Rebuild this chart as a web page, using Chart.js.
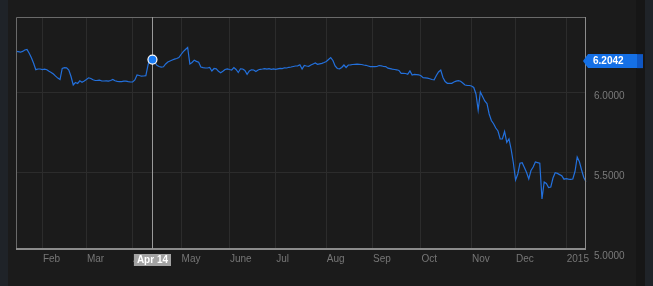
<!DOCTYPE html>
<html>
<head>
<meta charset="utf-8">
<script src="https://cdn.jsdelivr.net/npm/chart.js@4.4.1/dist/chart.umd.min.js"></script>
<style>
    html, body { margin: 0; padding: 0; background: #1b1b1b; }
    #wrap { width: 653px; height: 286px; }
</style>
</head>
<body>
<div id="wrap"><canvas id="chart" width="653" height="286"></canvas></div>
<script>
// trading days: weekdays from first to last date
const firstDate = '2014-01-16';
const lastDate = '2015-01-14';

// month tick labels, in order of the month starts inside the range
const monthLabels = ['Feb', 'Mar', 'Apr', 'May', 'June', 'Jul', 'Aug', 'Sep', 'Oct', 'Nov', 'Dec', '2015'];

// y axis tick labels
const yTicks = [5.0, 5.5, 6.0];

// closing values, one per trading day
const values = [
    6.2563, 6.2538, 6.2506, 6.2556, 6.2644, 6.2681, 6.2438, 6.2163, 6.1813, 6.1413,
    6.1456, 6.1456, 6.1413, 6.1444, 6.1413, 6.1313, 6.1244, 6.1144, 6.1013, 6.0888,
    6.0800, 6.1488, 6.1544, 6.1531, 6.1394, 6.0988, 6.0456, 6.0613, 6.0550, 6.0719,
    6.0625, 6.0706, 6.0800, 6.0906, 6.0863, 6.0781, 6.0738, 6.0744, 6.0756, 6.0706,
    6.0706, 6.0719, 6.0700, 6.0738, 6.0800, 6.0719, 6.0681, 6.0669, 6.0669, 6.0694,
    6.0700, 6.0669, 6.0644, 6.0644, 6.0769, 6.1081, 6.1050, 6.1006, 6.1019, 6.1038,
    6.1706, 6.2188, 6.2042, 6.1894, 6.1688, 6.1613, 6.1569, 6.1594, 6.1769, 6.1894,
    6.1956, 6.2019, 6.2069, 6.2113, 6.2169, 6.2363, 6.2538, 6.2675, 6.2800, 6.1769,
    6.1863, 6.2006, 6.1931, 6.1875, 6.1581, 6.1538, 6.1519, 6.1519, 6.1550, 6.1331,
    6.1488, 6.1469, 6.1313, 6.1225, 6.1313, 6.1425, 6.1463, 6.1425, 6.1394, 6.1550,
    6.1425, 6.1238, 6.1469, 6.1456, 6.1363, 6.1125, 6.1331, 6.1406, 6.1394, 6.1300,
    6.1394, 6.1438, 6.1456, 6.1481, 6.1444, 6.1475, 6.1438, 6.1469, 6.1438, 6.1469,
    6.1500, 6.1481, 6.1531, 6.1519, 6.1563, 6.1581, 6.1613, 6.1644, 6.1656, 6.1719,
    6.1456, 6.1675, 6.1644, 6.1625, 6.1706, 6.1769, 6.1831, 6.1750, 6.1781, 6.1806,
    6.1863, 6.1925, 6.2050, 6.2169, 6.1988, 6.1644, 6.1488, 6.1469, 6.1550, 6.1706,
    6.1550, 6.1706, 6.1719, 6.1738, 6.1750, 6.1756, 6.1750, 6.1738, 6.1706, 6.1688,
    6.1644, 6.1600, 6.1613, 6.1600, 6.1613, 6.1675, 6.1656, 6.1613, 6.1606, 6.1506,
    6.1475, 6.1444, 6.1425, 6.1406, 6.1363, 6.1188, 6.1188, 6.1175, 6.1131, 6.1331,
    6.1081, 6.1119, 6.1106, 6.1094, 6.1031, 6.0919, 6.0900, 6.0881, 6.0844, 6.0800,
    6.0781, 6.1050, 6.1269, 6.1394, 6.0925, 6.0675, 6.0563, 6.0563, 6.0563, 6.0644,
    6.0694, 6.0725, 6.0688, 6.0581, 6.0456, 6.0438, 6.0425, 6.0394, 6.0300, 5.9894,
    5.8894, 6.0019, 5.9738, 5.9456, 5.9300, 5.8644, 5.8238, 5.8038, 5.7769, 5.7581,
    5.7081, 5.7088, 5.7550, 5.6863, 5.7088, 5.6425, 5.5581, 5.4519, 5.4894, 5.5563,
    5.5600, 5.5300, 5.4988, 5.4581, 5.5113, 5.5331, 5.5644, 5.5606, 5.5563, 5.3331,
    5.4394, 5.4300, 5.4050, 5.4081, 5.4644, 5.4969, 5.4931, 5.4856, 5.4781, 5.4569,
    5.4606, 5.4569, 5.4563, 5.4581, 5.5050, 5.5956, 5.5656, 5.5144, 5.4675, 5.4413
];

// the hovered day shown with crosshair, marker and flag
const highlightDate = '2014-04-14';

const monthNames = ['Jan', 'Feb', 'Mar', 'Apr', 'May', 'Jun', 'Jul', 'Aug', 'Sep', 'Oct', 'Nov', 'Dec'];
const FONT = '"Liberation Sans", Arial, sans-serif';

// build the weekday list
const dates = [];
for (let d = new Date(firstDate + 'T00:00:00Z'); d <= new Date(lastDate + 'T00:00:00Z'); d.setUTCDate(d.getUTCDate() + 1)) {
    const wd = d.getUTCDay();
    if (wd !== 0 && wd !== 6) dates.push(d.toISOString().slice(0, 10));
}

// index of first trading day of each month -> label
const monthTickLabel = {};
let m = 0;
dates.forEach((s, i) => {
    if (i > 0 && s.slice(5, 7) !== dates[i - 1].slice(5, 7)) {
        monthTickLabel[i] = monthLabels[m++];
    }
});

const hiIndex = dates.indexOf(highlightDate);

const backdrop = {
    id: 'backdrop',
    beforeDraw(chart) {
        const c = chart.ctx;
        c.save();
        c.fillStyle = '#1b1b1b';
        c.fillRect(0, 0, chart.width, chart.height);
        c.fillStyle = '#1f2328';
        c.fillRect(0, 0, 8, chart.height);
        c.fillRect(chart.width - 8, 0, 8, chart.height);
        c.fillStyle = '#161616';
        c.fillRect(chart.width - 17, 0, 9, chart.height);
        c.restore();
    },
    afterDraw(chart) {
        const c = chart.ctx;
        const a = chart.chartArea;
        c.save();
        // frame
        c.strokeStyle = '#6a6a6a';
        c.lineWidth = 1;
        c.beginPath();
        c.moveTo(a.left + 0.5, a.bottom);
        c.lineTo(a.left + 0.5, a.top + 0.5);
        c.lineTo(a.right - 0.5, a.top + 0.5);
        c.stroke();
        c.strokeStyle = '#8c8c8c';
        c.beginPath();
        c.moveTo(a.right - 0.5, a.top);
        c.lineTo(a.right - 0.5, a.bottom);
        c.stroke();
        c.lineWidth = 2;
        c.beginPath();
        c.moveTo(a.left, a.bottom);
        c.lineTo(a.right, a.bottom);
        c.stroke();

        // crosshair + marker
        if (hiIndex >= 0) {
            const pt = chart.getDatasetMeta(0).data[hiIndex];
            const x = Math.round(pt.x) + 0.5;
            c.lineWidth = 1;
            c.strokeStyle = '#9a9a9a';
            c.beginPath();
            c.moveTo(x, a.top);
            c.lineTo(x, a.bottom);
            c.stroke();

            c.beginPath();
            c.arc(pt.x, pt.y, 4.5, 0, Math.PI * 2);
            c.fillStyle = '#1a7cf5';
            c.fill();
            c.lineWidth = 1.2;
            c.strokeStyle = '#ffffff';
            c.stroke();

            // date box on the x axis
            const d = new Date(highlightDate + 'T00:00:00Z');
            const txt = monthNames[d.getUTCMonth()] + ' ' + d.getUTCDate();
            c.font = 'bold 10px ' + FONT;
            const w = c.measureText(txt).width + 6;
            c.fillStyle = '#a2a2a2';
            c.fillRect(pt.x - w / 2, a.bottom + 5, w, 12);
            c.fillStyle = '#ffffff';
            c.textAlign = 'center';
            c.textBaseline = 'middle';
            c.fillText(txt, pt.x, a.bottom + 11.5);

            // value flag on the right
            const fy = pt.y + 1.5;
            const r = a.right;
            c.fillStyle = '#1570e6';
            c.beginPath();
            c.moveTo(r - 3, fy);
            c.lineTo(r + 2, fy - 7);
            c.lineTo(r + 51, fy - 7);
            c.lineTo(r + 51, fy + 7);
            c.lineTo(r + 2, fy + 7);
            c.closePath();
            c.fill();
            c.fillStyle = '#0f57c4';
            c.fillRect(r + 51, fy - 7, 6, 14);
            c.fillStyle = '#ffffff';
            c.font = 'bold 10px ' + FONT;
            c.textAlign = 'left';
            c.fillText(values[hiIndex].toFixed(4), r + 7, fy + 0.5);
        }
        c.restore();
    }
};

const yMin = 5.0206;
const yMax = 6.4706;

new Chart(document.getElementById('chart'), {
    type: 'line',
    data: {
        labels: dates,
        datasets: [{
            data: values,
            borderColor: '#2370dc',
            borderWidth: 1.2,
            pointRadius: 0,
            tension: 0,
            fill: false
        }]
    },
    options: {
        responsive: false,
        animation: false,
        devicePixelRatio: 1,
        layout: { padding: { left: 16, top: 17, right: 0, bottom: 0 } },
        plugins: { legend: { display: false }, tooltip: { enabled: false } },
        scales: {
            x: {
                type: 'category',
                afterBuildTicks: (s) => { s.ticks = s.ticks.filter(t => monthTickLabel[t.value] !== undefined); },
                afterFit: (s) => { s.height = 37; },
                grid: { color: '#2c2c2c', drawTicks: false },
                border: { display: false },
                ticks: {
                    autoSkip: false,
                    maxRotation: 0,
                    align: 'start',
                    labelOffset: 0.5,
                    padding: 4,
                    color: '#767676',
                    font: { family: FONT, size: 10 },
                    callback: (v) => monthTickLabel[v]
                }
            },
            y: {
                type: 'linear',
                position: 'right',
                min: yMin,
                max: yMax,
                afterBuildTicks: (s) => { s.ticks = yTicks.map(v => ({ value: v })); },
                afterFit: (s) => { s.width = 67; },
                grid: {
                    color: (ctx) => (ctx.tick && ctx.tick.value < yMin) ? 'rgba(0,0,0,0)' : '#2c2c2c',
                    drawTicks: false
                },
                border: { display: false },
                ticks: {
                    padding: 8,
                    labelOffset: 4,
                    color: '#7a7a7a',
                    font: { family: FONT, size: 10 },
                    callback: (v) => Number(v).toFixed(4)
                }
            }
        }
    },
    plugins: [backdrop]
});
</script>
</body>
</html>
